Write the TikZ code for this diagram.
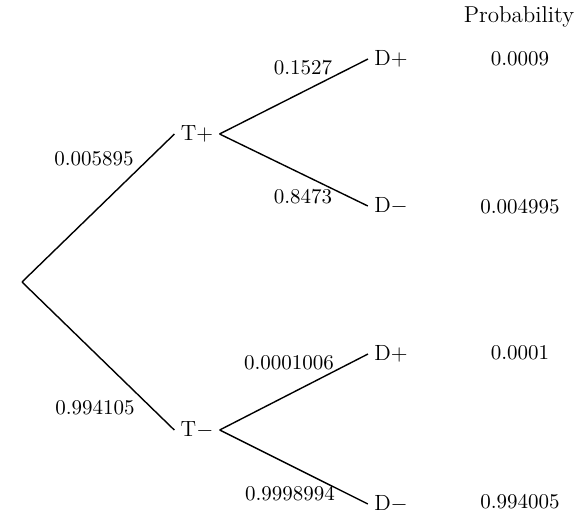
\documentclass[tikz,border=0pt]{standalone}
\begin{document}
\begin{tikzpicture}[x=0.5pt,y=-0.5pt,
  every node/.style={font=\fontsize{10.5}{12}\selectfont},
  state/.style={inner sep=3pt,font=\fontsize{11}{13}\selectfont},
  lbl/.style={inner sep=0pt},
  branch/.style={line width=0.7pt}]
\useasboundingbox (0,0) rectangle (585,514);
\coordinate (root) at (22,282);
\node[state] (Tp) at (197,134) {T+};
\node[state] (Tm) at (197,430) {T$-$};
\node[state] (Dpp) at (391,59) {D+};
\node[state] (Dpm) at (391,206) {D$-$};
\node[state] (Dmp) at (391,354) {D+};
\node[state] (Dmm) at (391,504) {D$-$};
\draw[branch] (root) -- (Tp.west);
\draw[branch] (root) -- (Tm.west);
\draw[branch] (Tp.east) -- (Dpp.west);
\draw[branch] (Tp.east) -- (Dpm.west);
\draw[branch] (Tm.east) -- (Dmp.west);
\draw[branch] (Tm.east) -- (Dmm.west);
\node[lbl] (l1) at (94,159) {0.005895};
\node[lbl] (l2) at (95,408) {0.994105};
\node[lbl] (l3) at (303,68) {0.1527};
\node[lbl] (l4) at (303,197) {0.8473};
\node[lbl] (l5) at (289,363) {0.0001006};
\node[lbl] (l6) at (290,494) {0.9998994};
\node[lbl,font=\fontsize{11.5}{13}\selectfont] (ph) at (519,17) {Probability};
\node[lbl] (p1) at (520,59) {0.0009};
\node[lbl] (p2) at (520,207) {0.004995};
\node[lbl] (p3) at (520,353) {0.0001};
\node[lbl] (p4) at (520,502) {0.994005};
\end{tikzpicture}
\end{document}
